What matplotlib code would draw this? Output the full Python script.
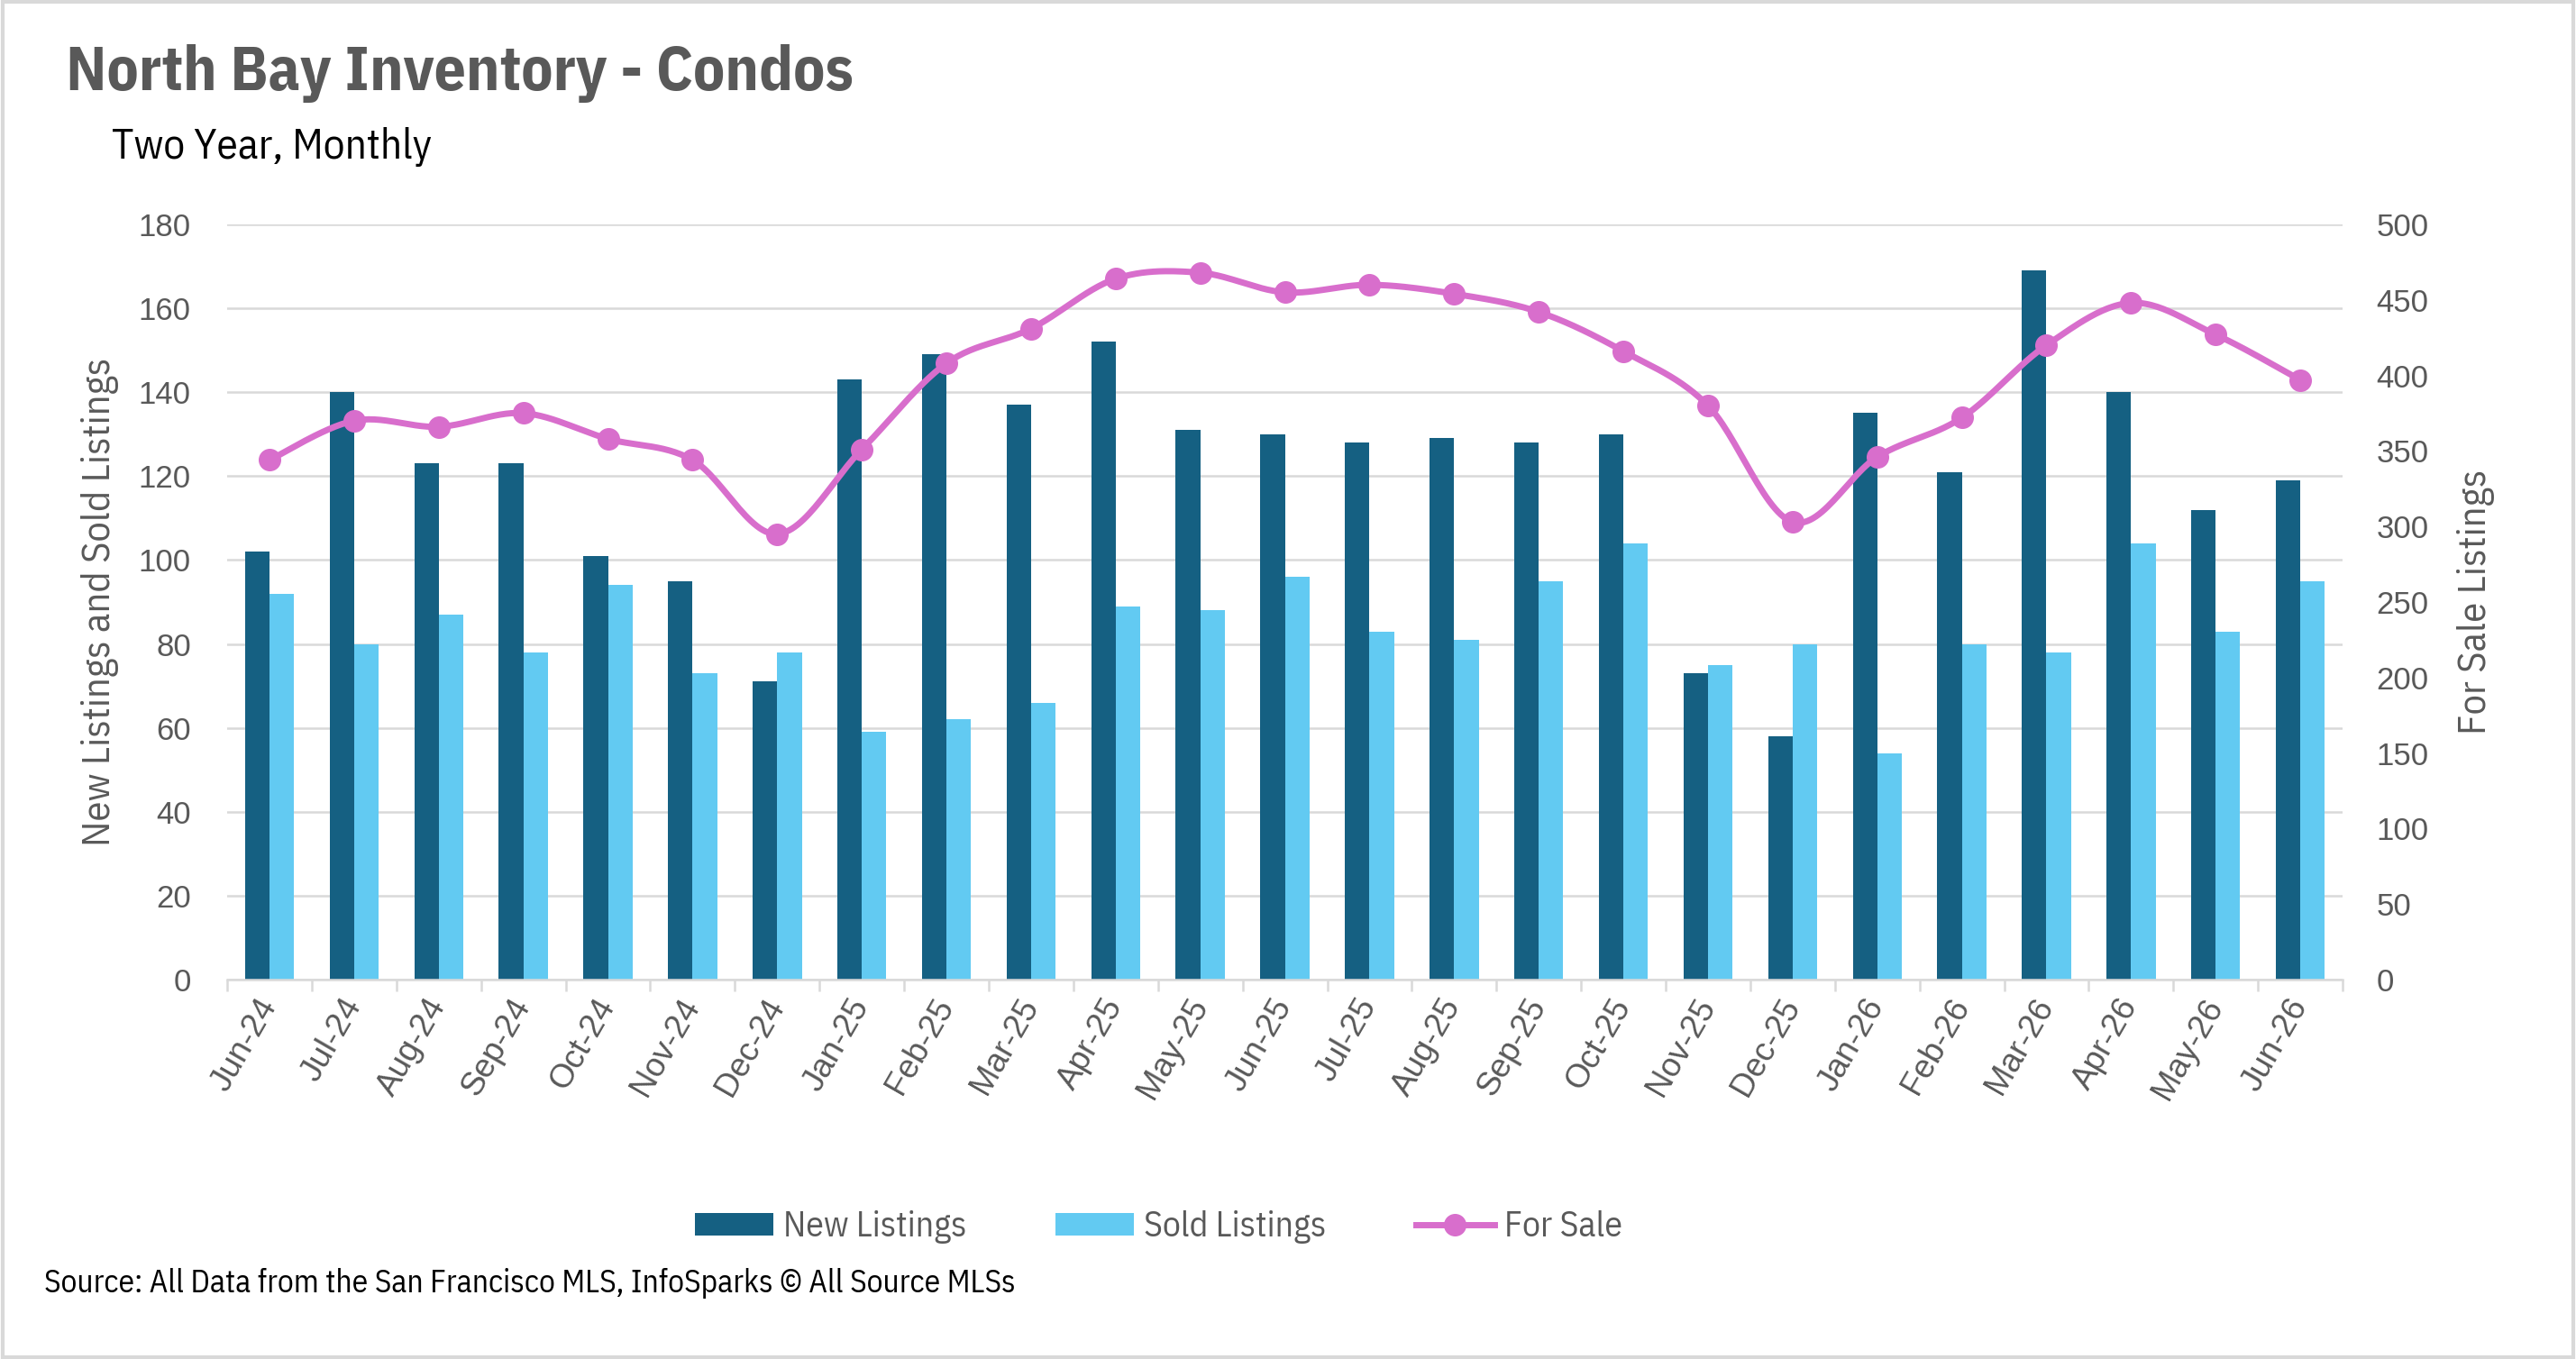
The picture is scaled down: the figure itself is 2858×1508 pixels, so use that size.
#!/usr/bin/env python

import numpy as np
import matplotlib
matplotlib.use("Agg")
import matplotlib.pyplot as plt
from matplotlib.lines import Line2D
from matplotlib.patches import Patch, Rectangle

# Data
months = ["Jun-24", "Jul-24", "Aug-24", "Sep-24", "Oct-24", "Nov-24", "Dec-24",
          "Jan-25", "Feb-25", "Mar-25", "Apr-25", "May-25", "Jun-25", "Jul-25",
          "Aug-25", "Sep-25", "Oct-25", "Nov-25", "Dec-25", "Jan-26", "Feb-26",
          "Mar-26", "Apr-26", "May-26", "Jun-26"]
new_listings = [102, 140, 123, 123, 101, 95, 71, 143, 149, 137, 152, 131, 130,
                128, 129, 128, 130, 73, 58, 135, 121, 169, 140, 112, 119]
sold_listings = [92, 80, 87, 78, 94, 73, 78, 59, 62, 66, 89, 88, 96, 83, 81,
                 95, 104, 75, 80, 54, 80, 78, 104, 83, 95]
for_sale = [344, 370, 366, 375, 358, 344, 295, 351, 408, 431, 464, 468, 455,
            460, 454, 442, 416, 380, 303, 346, 372, 420, 448, 427, 397]

C_NEW = "#156082"
C_SOLD = "#62CAF2"
C_FS = "#D86ECC"
GRID = "#D9D9D9"
TXT = "#595959"
NARROW = ["IBM Plex Sans Condensed", "DejaVu Sans"]
WIDE = ["Liberation Sans", "DejaVu Sans"]


def smooth(xs, ys, n=30):
    # Excel-like smoothed line: Catmull-Rom tangents as cubic Bezier segments
    xs = np.asarray(xs, float)
    ys = np.asarray(ys, float)
    px = np.concatenate([[xs[0]], xs, [xs[-1]]])
    py = np.concatenate([[ys[0]], ys, [ys[-1]]])
    t = np.linspace(0, 1, n)
    outx, outy = [], []
    for i in range(1, len(px) - 2):
        p1 = np.array([px[i], py[i]])
        p2 = np.array([px[i + 1], py[i + 1]])
        c1 = p1 + (np.array([px[i + 1], py[i + 1]]) - np.array([px[i - 1], py[i - 1]])) / 6
        c2 = p2 - (np.array([px[i + 2], py[i + 2]]) - p1) / 6
        b = ((1 - t) ** 3)[:, None] * p1 + (3 * (1 - t) ** 2 * t)[:, None] * c1 \
            + (3 * (1 - t) * t ** 2)[:, None] * c2 + (t ** 3)[:, None] * p2
        outx.extend(b[:, 0])
        outy.extend(b[:, 1])
    return np.array(outx), np.array(outy)


fig = plt.figure(figsize=(28.58, 15.08), dpi=100)
ax = fig.add_axes([0.0882, 0.2792, 0.8212, 0.5557])
ax2 = ax.twinx()

x = np.arange(len(months))
w = 0.29
ax.bar(x - w / 2, new_listings, w, color=C_NEW, zorder=2)
ax.bar(x + w / 2, sold_listings, w, color=C_SOLD, zorder=2)

sx, sy = smooth(x, for_sale)
ax2.plot(sx, sy, color=C_FS, lw=5, solid_capstyle="round", zorder=3)
ax2.plot(x, for_sale, "o", color=C_FS, ms=17, zorder=4)

ax.set_xlim(-0.5, len(months) - 0.5)
ax.set_ylim(0, 180)
ax.set_yticks(np.arange(0, 181, 20))
ax2.set_ylim(0, 500)
ax2.set_yticks(np.arange(0, 501, 50))

ax.yaxis.grid(True, color=GRID, lw=1.8, zorder=0)
ax.set_axisbelow(True)
for a in (ax, ax2):
    for s in ("top", "left", "right"):
        a.spines[s].set_visible(False)
    a.spines["bottom"].set_color(GRID)
    a.spines["bottom"].set_linewidth(1.8)
ax2.spines["bottom"].set_visible(False)

ax.tick_params(axis="y", length=0, pad=29, labelsize=25, labelcolor=TXT)
ax2.tick_params(axis="y", length=0, pad=27, labelsize=25, labelcolor=TXT)
for lab in ax.get_yticklabels() + ax2.get_yticklabels():
    lab.set_family(WIDE)

# category ticks between groups, labels at centres
ax.set_xticks(np.arange(-0.5, len(months), 1.0))
ax.set_xticklabels([])
ax.tick_params(axis="x", which="major", length=9, width=1.8, color=GRID)
ax.set_xticks(x, minor=True)
ax.set_xticklabels(months, minor=True, rotation=60, ha="right", va="center",
                   rotation_mode="anchor", fontsize=26.5, color=TXT, family=WIDE)
ax.tick_params(axis="x", which="minor", length=0, pad=17)

ax.set_ylabel("New Listings and Sold Listings", fontsize=32, color=TXT,
              family=NARROW, labelpad=16)
ax2.set_ylabel("For Sale Listings", fontsize=32, color=TXT, family=NARROW,
               labelpad=22)

fig.text(0.0255, 0.946, "North Bay Inventory - Condos", fontsize=50,
         fontweight="bold", color=TXT, family=NARROW, va="center")
fig.text(0.0434, 0.892, "Two Year, Monthly", fontsize=34, color="black",
         family=NARROW, va="center")
fig.text(0.0171, 0.056, "Source: All Data from the San Francisco MLS, InfoSparks \u00a9 All Source MLSs",
         fontsize=25.5, color="black", family=NARROW, va="center")

handles = [Patch(facecolor=C_NEW), Patch(facecolor=C_SOLD),
           Line2D([], [], color=C_FS, lw=5, marker="o", ms=17)]
fig.legend(handles, ["New Listings", "Sold Listings", "For Sale"],
           loc="center", bbox_to_anchor=(0.4497, 0.097), ncol=3, frameon=False,
           prop={"family": NARROW, "size": 28.5}, labelcolor=TXT,
           handlelength=2.2, handleheight=0.58, handletextpad=0.28,
           columnspacing=2.5)

fig.patches.append(Rectangle((0.001, 0.001), 0.998, 0.998, transform=fig.transFigure,
                             fill=False, edgecolor=GRID, lw=3))

fig.savefig("out.png", dpi=100)
